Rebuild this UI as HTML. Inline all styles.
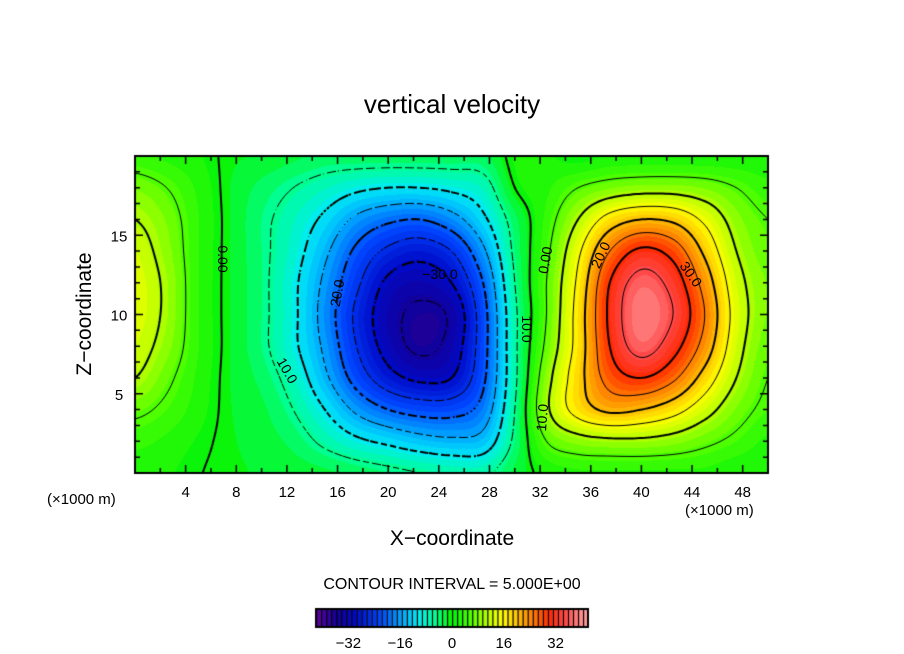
<!DOCTYPE html>
<html><head><meta charset="utf-8">
<style>
body{margin:0;background:#fff;width:904px;height:654px;overflow:hidden;position:relative;font-family:"Liberation Sans",sans-serif;}
.t{position:absolute;color:#000;white-space:nowrap;}
</style></head><body>
<div class="t" style="left:0;width:904px;text-align:center;top:89px;font-size:26px;">vertical velocity</div>
<canvas id="cv" width="904" height="654" style="position:absolute;left:0;top:0"></canvas>
<svg id="ov" width="904" height="654" style="position:absolute;left:0;top:0"></svg>
<div class="t" style="left:0;width:904px;text-align:center;top:527px;font-size:21px;">X−coordinate</div>
<div class="t" style="left:-5px;top:302px;width:180px;text-align:center;font-size:21px;transform:rotate(-90deg);transform-origin:90px 12px;">Z−coordinate</div>
<div class="t" style="left:47px;top:491px;font-size:15px;">(×1000 m)</div>
<div class="t" style="left:685px;top:502px;font-size:15px;">(×1000 m)</div>
<div class="t" style="left:0;width:904px;text-align:center;top:576px;font-size:16px;">CONTOUR INTERVAL = 5.000E+00</div>
<script>
const xs=[0,2.5,5,7.5,10,12.5,15,17.5,20,22.5,25,27.5,30,32.5,35,37.5,40,42.5,45,47.5,50];
const zs=[20,18,16,14,12,10,8,6,4,2,0];
const row20=[3,2,1,-0.5,-1,-2,-3,-3,-3,-3,-3,-3,1,1,0,1,1,1,1,1,1];
const row18=[7,5,2,-0.8,-3,-5,-7,-9,-10,-10,-9,-7,0,2,5,7,8,8,7,5,3];
const row16=[10,7,2.5,-0.8,-4,-7,-11,-16,-19,-20,-17,-11,-3,3,10,17,20,19,14,8,5];
const row14=[12,8,2.5,-0.8,-4,-8,-14,-21,-26,-28,-25,-16,-4,4,14,25,31,28,19,10,6];
const row12=[13,9,2.5,-0.8,-4,-9,-16,-24,-31,-33,-30,-20,-5,5,16,30,37,33,23,12,7];
const row10=[13,9,2.5,-0.8,-4,-9,-17,-26,-33,-36,-34,-22,-6,5,17,31,39,35,25,13,7];
const row8=[12,8,2.5,-0.8,-4,-9,-16,-25,-32,-36,-33,-22,-6,6,17,30,37,32,23,12,6];
const row6=[10,6,2,-0.8,-3,-7,-14,-22,-28,-31,-30,-21,-6,8,18,27,30,26,18,10,5];
const row4=[6,4,1.5,-0.7,-2,-5,-10,-16,-20,-22,-22,-18,-5,9,17,21,20,17,12,7,4];
const row2=[3,2,0.6,-0.6,-1.5,-3,-6,-9,-11,-13,-14,-13,-4,5,8,9,9,8,6,4,2];
const row0=[1.5,1,0.1,-0.5,-1,-1.5,-2,-3,-4,-5,-6,-6,-2,1,2,2,2,2,2,1,1];
const grid=[row20,row18,row16,row14,row12,row10,row8,row6,row4,row2,row0];
const xTicks=[4,8,12,16,20,24,28,32,36,40,44,48];
const zTicks=[5,10,15];
const cbTicks=[-32,-16,0,16,32];

const L=135,R=768,T=156,B=473,X0=0,X1=50,Z0=0,Z1=20;
const sx=x=>L+(x-X0)/(X1-X0)*(R-L);
const sz=z=>B-(z-Z0)/(Z1-Z0)*(B-T);
function cr(p0,p1,p2,p3,t){return 0.5*(2*p1+(-p0+p2)*t+(2*p0-5*p1+4*p2-p3)*t*t+(-p0+3*p1-3*p2+p3)*t*t*t);}
function g(r,c){r=Math.max(0,Math.min(grid.length-1,r));c=Math.max(0,Math.min(xs.length-1,c));return grid[r][c];}
function field(x,z){
  const fc=(x-xs[0])/(xs[xs.length-1]-xs[0])*(xs.length-1);
  const fr=(zs[0]-z)/(zs[0]-zs[zs.length-1])*(zs.length-1);
  const c=Math.min(xs.length-2,Math.max(0,Math.floor(fc))),r=Math.min(zs.length-2,Math.max(0,Math.floor(fr)));
  const tc=fc-c,tr=fr-r;const v=[];
  for(let k=-1;k<3;k++)v.push(cr(g(r+k,c-1),g(r+k,c),g(r+k,c+1),g(r+k,c+2),tc));
  return cr(v[0],v[1],v[2],v[3],tr);
}
const stops=[[-42,[90,0,160]],[-36,[20,0,150]],[-30,[0,10,200]],[-22,[0,70,255]],[-15,[0,170,255]],[-10,[0,235,245]],[-5,[0,255,150]],[0,[10,245,10]],[5,[80,255,0]],[10,[180,255,0]],[15,[255,255,0]],[20,[255,190,0]],[25,[255,120,0]],[30,[255,40,0]],[35,[255,70,70]],[40,[255,140,140]],[43,[255,170,170]]];
function col(v){v=Math.round(v/1.6)*1.6;if(v<=stops[0][0])return stops[0][1];
  for(let i=1;i<stops.length;i++)if(v<=stops[i][0]){const a=stops[i-1],b=stops[i],t=(v-a[0])/(b[0]-a[0]);return a[1].map((q,k)=>Math.round(q+(b[1][k]-q)*t));}
  return stops[stops.length-1][1];}
const cv=document.getElementById('cv'),ctx=cv.getContext('2d');
const W=R-L,H=B-T,img=ctx.createImageData(W,H);
for(let j=0;j<H;j++){for(let i=0;i<W;i++){const x=X0+(i+0.5)/W*(X1-X0),z=Z1-(j+0.5)/H*(Z1-Z0);const v=field(x,z);const c=col(v);const p=(j*W+i)*4;img.data[p]=c[0];img.data[p+1]=c[1];img.data[p+2]=c[2];img.data[p+3]=255;}}
ctx.putImageData(img,L,T);
const S=3,nx=Math.ceil(W/S)+1,nz=Math.ceil(H/S)+1,V=[];
for(let j=0;j<nz;j++){V.push([]);for(let i=0;i<nx;i++){const px=Math.min(W,i*S),py=Math.min(H,j*S);V[j].push(field(X0+px/W*(X1-X0),Z1-py/H*(Z1-Z0)));}}
for(let lev=-35;lev<=40;lev+=5){
  ctx.strokeStyle='#000';ctx.lineWidth=(lev%10===0)?2:1;
  ctx.beginPath();
  for(let j=0;j<nz-1;j++)for(let i=0;i<nx-1;i++){
    const pts=[];const P=[[i,j],[i+1,j],[i+1,j+1],[i,j+1]];
    for(let e=0;e<4;e++){const a=P[e],b=P[(e+1)%4];const va=V[a[1]][a[0]]-lev,vb=V[b[1]][b[0]]-lev;
      if((va<0)!==(vb<0)){const t=va/(va-vb);pts.push([L+Math.min(W,(a[0]+(b[0]-a[0])*t)*S),T+Math.min(H,(a[1]+(b[1]-a[1])*t)*S)]);}}
    if(pts.length>=2){if(lev<0&&((i+j)%4===0))continue;
      ctx.moveTo(pts[0][0],pts[0][1]);ctx.lineTo(pts[1][0],pts[1][1]);
      if(pts.length===4){ctx.moveTo(pts[2][0],pts[2][1]);ctx.lineTo(pts[3][0],pts[3][1]);}}
  }
  ctx.stroke();
}
ctx.strokeStyle='#000';ctx.lineWidth=2;ctx.strokeRect(L,T,W,H);ctx.lineWidth=1.5;ctx.beginPath();
for(let x=2;x<50;x+=2){const X=sx(x),len=(x%4===0)?8:5;ctx.moveTo(X,B);ctx.lineTo(X,B-len);ctx.moveTo(X,T);ctx.lineTo(X,T+len);}
for(let z=1;z<20;z++){const Y=sz(z),len=(z%5===0)?8:5;ctx.moveTo(L,Y);ctx.lineTo(L+len,Y);ctx.moveTo(R,Y);ctx.lineTo(R-len,Y);}
ctx.stroke();
const cbL=316,cbR=588,cbT=609,cbB=627,cbMin=-42,cbMax=42,n=54;
for(let k=0;k<n;k++){const v=cbMin+(k+0.5)/n*(cbMax-cbMin);const c=col(v);const x0=cbL+k/n*(cbR-cbL);ctx.fillStyle=`rgb(${c[0]},${c[1]},${c[2]})`;ctx.fillRect(x0,cbT,(cbR-cbL)/n,cbB-cbT);ctx.fillStyle='#000';ctx.fillRect(x0,cbT,1.2,cbB-cbT);}
ctx.lineWidth=2;ctx.strokeRect(cbL,cbT,cbR-cbL,cbB-cbT);
const ov=document.getElementById('ov');const NS='http://www.w3.org/2000/svg';
function txt(x,y,s,size,name,rot){const t=document.createElementNS(NS,'text');t.setAttribute('x',x);t.setAttribute('y',y);t.setAttribute('font-size',size);t.setAttribute('text-anchor','middle');t.setAttribute('font-family','Liberation Sans, sans-serif');if(rot)t.setAttribute('transform',`rotate(${rot} ${x} ${y})`);t.textContent=s;


ov.appendChild(t);return t;}
xTicks.forEach(v=>txt(sx(v),497,String(v),15,'x-tick-label'));
zTicks.forEach(v=>txt(119,sz(v)+6,String(v),15,'y-tick-label'));
cbTicks.forEach(v=>txt(cbL+(v-cbMin)/(cbMax-cbMin)*(cbR-cbL),648,String(v).replace('-','−'),15,'colorbar-tick-label'));
const labs=[[218,254,'0.00',90],[342,289,'20.0',-80],[440,274,'−30.0',0],[283,368,'10.0',60],[522,324,'10.0',90],[550,256,'0.00',-80],[605,252,'20.0',-65],[687,272,'30.0',55],[547,413,'10.0',-85]];
labs.forEach(l=>txt(l[0],l[1]+5,l[2],14,'contour-label',l[3]));
</script>
</body></html>
